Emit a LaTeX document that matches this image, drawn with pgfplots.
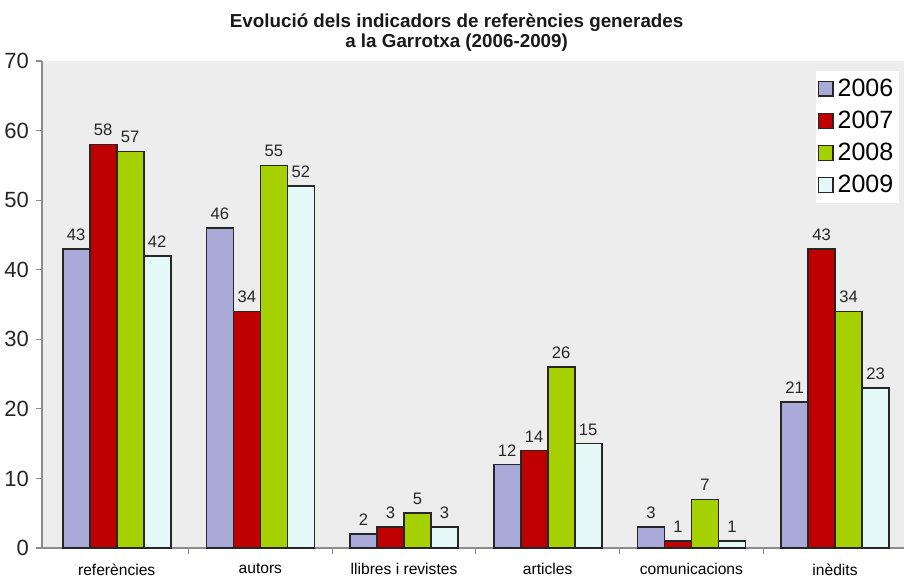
\documentclass[border=0pt]{standalone}
\usepackage{pgfplots}
\pgfplotsset{compat=1.18}
\usepackage{fontspec}
\setmainfont{Liberation Sans}
\definecolor{c6}{HTML}{AAAAD8}
\definecolor{c7}{HTML}{BE0000}
\definecolor{c8}{HTML}{A6D000}
\definecolor{c9}{HTML}{E4F8F8}
\definecolor{bg}{HTML}{ECEDEC}
\begin{document}
\begin{tikzpicture}
\useasboundingbox (-21pt,-15pt) rectangle (431pt,274pt);
\begin{axis}[
  at={(0,0)}, anchor=south west,
  scale only axis, width=431pt, height=243.5pt,
  clip=false,
  ybar=0pt, bar width=13.5pt,
  xmin=-0.52, xmax=5.48, ymin=0, ymax=70,
  ytick={0,10,...,70},
  xtick={0.5,1.5,2.5,3.5,4.5},
  xticklabels={},
  extra x ticks={0,1,2,3,4,5},
  extra x tick labels={referències, autors, llibres i revistes, articles, comunicacions, inèdits},
  extra x tick style={major tick length=0pt, tick label style={font=\fontsize{7.8}{9}\selectfont, yshift=-4.3pt}},
  axis x line*=bottom, axis y line*=left,
  axis line style={draw=black!45, line width=0.6pt},
  tick style={draw=black!45, line width=0.6pt},
  tick align=outside, major tick length=3pt,
  axis background/.style={fill=bg},
  /pgf/number format/assume math mode=true,
  yticklabel style={font=\fontsize{11}{13}\selectfont, text=black!85},
  every axis plot/.append style={draw=black!85, line width=0.8pt},
  nodes near coords,
  every node near coord/.append style={font=\fontsize{8.3}{10}\selectfont, text=black!85, yshift=0.5pt, /pgf/number format/assume math mode=true},
  legend style={at={(rel axis cs:0.995,0.981)}, anchor=north east, fill=white, draw=none,
    font=\fontsize{12.5}{15}\selectfont, row sep=1.8pt, inner xsep=1pt, inner ysep=2pt},
  legend image code/.code={\draw[#1, line width=0.6pt] (0pt,-3.6pt) rectangle (7.2pt,3.6pt);},
  legend cell align=left,
]
\addplot[fill=c6] coordinates {(0,43) (1,46) (2,2) (3,12) (4,3) (5,21)};
\addplot[fill=c7] coordinates {(0,58) (1,34) (2,3) (3,14) (4,1) (5,43)};
\addplot[fill=c8] coordinates {(0,57) (1,55) (2,5) (3,26) (4,7) (5,34)};
\addplot[fill=c9] coordinates {(0,42) (1,52) (2,3) (3,15) (4,1) (5,23)};
\legend{2006,2007,2008,2009}
\node[font=\bfseries\fontsize{9.4}{10.3}\selectfont, align=center, anchor=south, text=black!90, inner sep=0pt]
  at (rel axis cs:0.481,1) [yshift=4.5pt] {Evolució dels indicadors de referències generades\\a la Garrotxa (2006-2009)};
\end{axis}
\end{tikzpicture}
\end{document}
